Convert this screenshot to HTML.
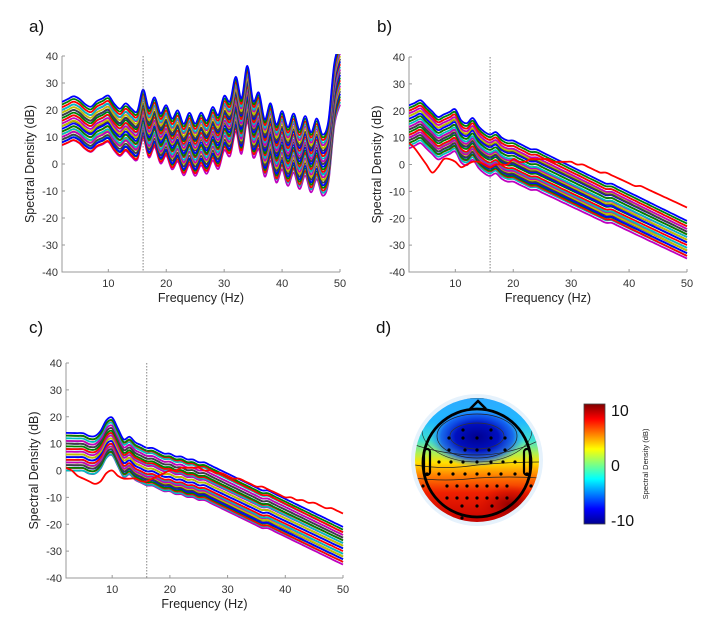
<!DOCTYPE html>
<html><head><meta charset="utf-8">
<style>
html,body{margin:0;padding:0;background:#fff;}
svg{display:block;font-family:"Liberation Sans",sans-serif;}
.lbl{font-family:"Liberation Sans",sans-serif;font-size:17px;fill:#111;}
.tick{font-size:11px;fill:#333;}
.ax{font-size:12.5px;fill:#222;}
</style></head>
<body>
<svg id="fig" width="706" height="623" viewBox="0 0 706 623">
<defs>
<clipPath id="headclip"><circle cx="477" cy="460" r="62"/></clipPath>
<linearGradient id="topoGrad" x1="0" y1="0" x2="0" y2="1">
<stop offset="0" stop-color="#30a8ff"/>
<stop offset="0.2" stop-color="#20b8ff"/>
<stop offset="0.35" stop-color="#40e0d0"/>
<stop offset="0.45" stop-color="#b0f050"/>
<stop offset="0.52" stop-color="#ffe000"/>
<stop offset="0.62" stop-color="#ff8000"/>
<stop offset="0.75" stop-color="#f02000"/>
<stop offset="1" stop-color="#c00000"/>
</linearGradient>
<radialGradient id="blueBlob" cx="0.5" cy="0.5" r="0.5">
<stop offset="0" stop-color="#000090"/>
<stop offset="0.45" stop-color="#0010c0"/>
<stop offset="0.75" stop-color="#1050f0" stop-opacity="0.8"/>
<stop offset="1" stop-color="#20a0ff" stop-opacity="0"/>
</radialGradient>
<radialGradient id="darkRed" cx="0.5" cy="0.5" r="0.5">
<stop offset="0" stop-color="#900000"/>
<stop offset="1" stop-color="#c00000" stop-opacity="0"/>
</radialGradient>
<linearGradient id="cbar" x1="0" y1="1" x2="0" y2="0">
<stop offset="0" stop-color="#00008f"/>
<stop offset="0.125" stop-color="#0000ff"/>
<stop offset="0.375" stop-color="#00ffff"/>
<stop offset="0.5" stop-color="#80ff80"/>
<stop offset="0.625" stop-color="#ffff00"/>
<stop offset="0.875" stop-color="#ff0000"/>
<stop offset="1" stop-color="#800000"/>
</linearGradient>
</defs>

<text class="lbl" x="29" y="32">a)</text>
<text class="lbl" x="377" y="32">b)</text>
<text class="lbl" x="29" y="333">c)</text>
<text class="lbl" x="376" y="333">d)</text>

<g id="topo">
<circle cx="477" cy="460" r="66" fill="#e6f2fc"/>
<g clip-path="url(#headclip)">
<rect x="410" y="395" width="135" height="130" fill="url(#topoGrad)"/>
<ellipse cx="477" cy="437" rx="48" ry="30" fill="url(#blueBlob)"/>
<ellipse cx="510" cy="505" rx="30" ry="20" fill="url(#darkRed)"/>
<path d="M415,445 Q445,455 477,455 Q510,455 540,440" fill="none" stroke="#222" stroke-width="0.7"/>
<path d="M415,465 Q445,470 477,465 Q510,462 540,462" fill="none" stroke="#222" stroke-width="0.7"/>
<path d="M415,478 Q445,482 477,478 Q510,476 540,478" fill="none" stroke="#222" stroke-width="0.7"/>
<ellipse cx="477" cy="436" rx="40" ry="22" fill="none" stroke="#222" stroke-width="0.7"/>
<ellipse cx="477" cy="436" rx="27" ry="13" fill="none" stroke="#333" stroke-width="0.7"/>
<ellipse cx="477" cy="430" rx="55" ry="32" fill="none" stroke="#222" stroke-width="0.6"/>
</g>
<circle cx="477" cy="463" r="54" fill="none" stroke="#000" stroke-width="2.8"/>
<path d="M470,409 L478,401 L486,409" fill="none" stroke="#000" stroke-width="2.5"/>
<rect x="424" y="449" width="6" height="26" rx="3" fill="none" stroke="#000" stroke-width="2.2"/>
<rect x="524" y="449" width="6" height="26" rx="3" fill="none" stroke="#000" stroke-width="2.2"/>
<g id="electrodes" fill="#000"></g>
</g>

<g>
<rect x="584" y="404" width="21" height="120" fill="url(#cbar)" stroke="#444" stroke-width="0.8"/>
<text x="611" y="416" font-size="16" fill="#111">10</text>
<text x="611" y="471" font-size="16" fill="#111">0</text>
<text x="611" y="526" font-size="16" fill="#111">-10</text>
<text transform="translate(648,464) rotate(-90)" text-anchor="middle" font-size="7.5" fill="#222">Spectral Density (dB)</text>
</g>
</svg>

<script>
// ---- data ----
const freqs = [2,3,4,5,6,7,8,9,10,11,12,13,14,15,16,17,18,19,20,21,22,23,24,25,26,27,28,29,30,31,32,33,34,35,36,37,38,39,40,41,42,43,44,45,46,47,48,49,50];
const baseA = [13,14,15,14,12,11,13,14,15,12,10,12,10,9,17,10,14,8,11,6,9,4,8,4,8,5,10,7,14,12,21,13,25,12,15,5,11,3,8,2,7,1,6,0,5,-1,4,25,33];
const baseB = [14,15,16,14,12,10,11,12,13,9,8,10,7,5,4,5,3,2,2,1,0,-1,-1,-2,-3,-4,-5,-6,-7,-8,-9,-10,-11,-12,-13,-13,-14,-15,-16,-17,-18,-19,-20,-21,-22,-23,-24,-25,-26];
const baseC = [7,7,7,7,6,6,8,12,13,9,5,6,4,3,2,2,1,0,0,-1,-1,-2,-2,-3,-3,-4,-5,-6,-7,-8,-9,-10,-11,-12,-13,-13,-14,-15,-16,-17,-18,-19,-20,-21,-22,-23,-24,-25,-26];
const offALow  = [10,9,8,7,7,6,5,5,4,3,3,2,1,1,0,-1,-1,-2,-3,-3,-4,-5,-5,-6,-4,-6,-2,1];
const offAHigh = [12,11,10,9,8,7,6,5,5,4,3,2,2,1,0,-1,-2,-3,-4,-5,-6,-7,-8,-9,-10,-11,-5,-3];
const offBLow  = [8,7,6,6,5,4,4,3,2,2,1,0,0,-1,-1,-2,-3,-3,-4,-4,-5,-5,-6,-6,-7,-8,-3];
const offBHigh = [5,4,3,3,2,2,1,1,0,0,-1,-1,-2,-2,-3,-3,-4,-5,-5,-6,-6,-7,-7,-8,-8,-9,-6];
const offCLow  = [7,6,6,5,4,4,3,3,2,1,1,0,-1,-1,-2,-2,-3,-3,-4,-4,-5,-5,-6,-6,-7,-7,-4];
const outlierB = [8,6,3,0,-3,-1,2,2,1,-1,0,1,1,0,-1,0,0,0,2,1,1,2,2,2,2,1,1,1,1,0,0,-1,-2,-3,-3,-4,-5,-6,-7,-8,-8,-9,-10,-11,-12,-13,-14,-15,-16];
const outlierC = [1,0,-2,-3,-4,-5,-4,-1,0,-2,-3,-3,-3,-4,-4,-3,-2,-1,0,0,1,1,1,1,0,0,-1,-1,-2,-3,-3,-4,-5,-6,-6,-7,-8,-9,-10,-10,-11,-11,-12,-12,-13,-14,-14,-15,-16];
const yTicks = [40,30,20,10,0,-10,-20,-30,-40];
const xTicks = [10,20,30,40,50];
const palette = ['#0000ff','#008000','#ff0000','#00bfbf','#bf00bf','#bfbf00','#404040'];
const electrodes = [[-14,-30],[14,-30],[-28,-22],[-14,-22],[0,-22],[14,-22],[28,-22],[-28,-10],[-12,-10],[0,-10],[12,-10],[28,-10],[-38,2],[-26,2],[-14,2],[0,2],[14,2],[26,2],[38,2],[-50,14],[-38,14],[-24,14],[-12,14],[0,14],[12,14],[24,14],[38,14],[50,14],[-54,26],[-30,26],[-20,26],[-10,26],[0,26],[10,26],[20,26],[30,26],[54,26],[-30,38],[-20,38],[-10,38],[0,38],[10,38],[20,38],[30,38],[-15,46],[0,46],[15,46],[-15,58]];

const NS='http://www.w3.org/2000/svg';
const svg=document.getElementById('fig');
function mk(tag,attrs,parent){const e=document.createElementNS(NS,tag);for(const k in attrs)e.setAttribute(k,attrs[k]);(parent||svg).appendChild(e);return e;}

function smoothPath(pts){
  let d='M'+pts[0][0].toFixed(1)+','+pts[0][1].toFixed(1);
  for(let i=0;i<pts.length-1;i++){
    const p0=pts[Math.max(0,i-1)],p1=pts[i],p2=pts[i+1],p3=pts[Math.min(pts.length-1,i+2)];
    const c1x=p1[0]+(p2[0]-p0[0])/6,c1y=p1[1]+(p2[1]-p0[1])/6;
    const c2x=p2[0]-(p3[0]-p1[0])/6,c2y=p2[1]-(p3[1]-p1[1])/6;
    d+='C'+c1x.toFixed(1)+','+c1y.toFixed(1)+' '+c2x.toFixed(1)+','+c2y.toFixed(1)+' '+p2[0].toFixed(1)+','+p2[1].toFixed(1);
  }
  return d;
}

function panel(id,x0,x1,y0,y1,base,lows,highs,outlier){
  const g=mk('g',{});
  
  
  const xs=f=>x0+(f-2)/(50-2)*(x1-x0);
  const ys=v=>y0+(40-v)/80*(y1-y0);
  const cp=mk('clipPath',{id:'clip'+id},g);
  mk('rect',{x:x0,y:y0-2,width:x1-x0+2,height:y1-y0+2},cp);
  // axes
  const ax=mk('path',{d:`M${x0},${y0} L${x0},${y1} L${x1},${y1}`,fill:'none',stroke:'#999',"stroke-width":1},g);
  
  
  yTicks.forEach(v=>{
    mk('line',{x1:x0,x2:x0+3,y1:ys(v),y2:ys(v),stroke:'#999'},g);
    const t=mk('text',{x:x0-4,y:ys(v)+4,'text-anchor':'end',class:'tick'},g);
    t.textContent=v;
    
    
  });
  xTicks.forEach(v=>{
    mk('line',{x1:xs(v),x2:xs(v),y1:y1,y2:y1-3,stroke:'#999'},g);
    const t=mk('text',{x:xs(v),y:y1+15,'text-anchor':'middle',class:'tick'},g);
    t.textContent=v;
    
    
  });
  const xl=mk('text',{x:(x0+x1)/2,y:y1+30,'text-anchor':'middle',class:'ax'},g);
  xl.textContent='Frequency (Hz)';
  
  
  const yl=mk('text',{transform:`translate(${x0-28},${(y0+y1)/2}) rotate(-90)`,'text-anchor':'middle',class:'ax'},g);
  yl.textContent='Spectral Density (dB)';
  
  
  const lg=mk('g',{'clip-path':`url(#clip${id})`},g);
  const n=lows.length;
  for(let c=n-1;c>=0;c--){
    const lo=lows[c],hi=highs[c];
    const pts=base.map((v,i)=>[xs(freqs[i]),ys(v+lo+(hi-lo)*i/(base.length-1))]);
    const p=mk('path',{d:smoothPath(pts),fill:'none',stroke:palette[c%palette.length],'stroke-width':1.8},lg);
    
    
  }
  if(outlier){
    const p=mk('path',{d:smoothPath(outlier.map((v,i)=>[xs(freqs[i]),ys(v)])),fill:'none',stroke:'#ff0000','stroke-width':1.8},lg);
    
    
  }
  const dl=mk('line',{x1:xs(16),x2:xs(16),y1:y0,y2:y1,stroke:'#666','stroke-width':0.8,'stroke-dasharray':'1.5,1.5'},g);
  
  
}
panel('a',62,340,56,272,baseA,offALow,offAHigh,null);
panel('b',409,687,57,272,baseB,offBLow,offBHigh,outlierB);
panel('c',66,343,363,578,baseC,offCLow,offBHigh,outlierC);

const eg=document.getElementById('electrodes');
electrodes.forEach(e=>{
  const c=mk('circle',{cx:477+e[0],cy:460+e[1],r:1.6},eg);
  
  
});
</script>
</body></html>
